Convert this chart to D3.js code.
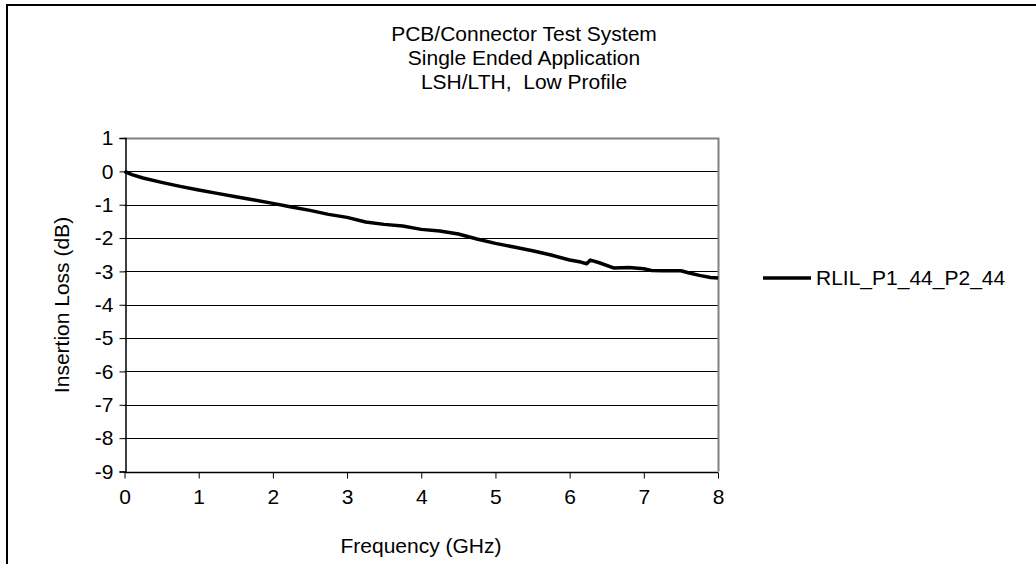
<!DOCTYPE html>
<html>
<head>
<meta charset="utf-8">
<script src="https://cdn.jsdelivr.net/npm/d3@7"></script>
<style>
html,body{margin:0;padding:0;background:#fff;}
svg{display:block;}
text{font-family:"Liberation Sans",Arial,sans-serif;fill:#000;}
</style>
</head>
<body>
<svg id="chart" width="1036" height="564"></svg>
<script>
const titleLines = ["PCB/Connector Test System", "Single Ended Application", "LSH/LTH,  Low Profile"];
const xTicks = [0, 1, 2, 3, 4, 5, 6, 7, 8];
const yTicks = [1, 0, -1, -2, -3, -4, -5, -6, -7, -8, -9];
const seriesName = "RLIL_P1_44_P2_44";
const freqGHz = [0, 0.1, 0.25, 0.5, 0.75, 1.0, 1.25, 1.5, 1.75, 2.0, 2.25, 2.5, 2.75, 3.0, 3.25, 3.5, 3.75, 4.0, 4.25, 4.5, 4.75, 5.0, 5.25, 5.5, 5.75, 6.0, 6.15, 6.23, 6.28, 6.4, 6.6, 6.8, 7.0, 7.1, 7.25, 7.5, 7.6, 7.75, 7.9, 8.0];
const lossDB = [0, -0.1, -0.2, -0.33, -0.45, -0.56, -0.66, -0.76, -0.86, -0.96, -1.07, -1.17, -1.29, -1.38, -1.52, -1.59, -1.64, -1.74, -1.79, -1.88, -2.03, -2.16, -2.27, -2.38, -2.51, -2.66, -2.72, -2.77, -2.66, -2.74, -2.9, -2.88, -2.92, -2.97, -2.98, -2.98, -3.04, -3.12, -3.18, -3.2];

const svg = d3.select("#chart");
const FS = 21;
const FONT = "Liberation Sans, Arial, sans-serif";
const plot = {left: 124.5, right: 718, top: 138, bottom: 471.5};

svg.append("rect").attr("width", 1036).attr("height", 564).attr("fill", "#fff");
svg.append("path").attr("d", "M7,564V5H1036").attr("fill", "none").attr("stroke", "#000").attr("stroke-width", 2);

const x = d3.scaleLinear().domain([0, 8]).range([plot.left, plot.right]);
const y = d3.scaleLinear().domain([-9, 1]).range([plot.bottom, plot.top]);

svg.append("g").selectAll("line").data(yTicks.filter(v => v < 1 && v > -9)).join("line")
  .attr("x1", plot.left).attr("x2", plot.right)
  .attr("y1", d => Math.round(y(d)) + 0.5).attr("y2", d => Math.round(y(d)) + 0.5)
  .attr("stroke", "#000").attr("stroke-width", 1);

svg.append("path")
  .attr("d", `M${plot.left},${Math.round(plot.top)+0.5}H${Math.round(plot.right)+0.5}V${plot.bottom}`)
  .attr("fill", "none").attr("stroke", "#808080").attr("stroke-width", 2);

const fmt = d => String(d);
const yAxis = d3.axisLeft(y).tickValues(yTicks).tickSize(6).tickPadding(6).tickFormat(fmt);
const gy = svg.append("g").attr("transform", `translate(${Math.round(plot.left)+0.5},0)`).call(yAxis);
const xAxis = d3.axisBottom(x).tickValues(xTicks).tickSize(6).tickPadding(11).tickFormat(fmt);
const gx = svg.append("g").attr("transform", `translate(0,${Math.round(plot.bottom)+0.5})`).call(xAxis);
[gx, gy].forEach(g => {
  g.select(".domain").attr("stroke", "#000").attr("stroke-width", 1.5);
  g.selectAll(".tick line").attr("stroke", "#000");
  g.selectAll(".tick text").attr("font-size", FS).attr("font-family", FONT).attr("fill", "#000");
});
gx.select(".domain").attr("d", `M${plot.left},0H${plot.right}`);

const line = d3.line().x((d, i) => x(freqGHz[i])).y(d => y(d));
svg.append("path").datum(lossDB).attr("d", line)
  .attr("fill", "none").attr("stroke", "#000").attr("stroke-width", 3.5).attr("stroke-linejoin", "round");

svg.append("g").selectAll("text").data(titleLines).join("text")
  .attr("x", 524).attr("y", (d, i) => 41 + i * 24)
  .attr("text-anchor", "middle").attr("font-size", FS).style("white-space", "pre")
  .text(d => d);

svg.append("text").attr("x", 421).attr("y", 553).attr("text-anchor", "middle").attr("font-size", FS).text("Frequency (GHz)");
svg.append("text").attr("transform", "translate(69,305) rotate(-90)").attr("text-anchor", "middle").attr("font-size", FS).text("Insertion Loss (dB)");

svg.append("line").attr("x1", 763).attr("x2", 811).attr("y1", 278).attr("y2", 278).attr("stroke", "#000").attr("stroke-width", 3.5);
svg.append("text").attr("x", 816).attr("y", 285).attr("font-size", FS).text(seriesName);
</script>
</body>
</html>
